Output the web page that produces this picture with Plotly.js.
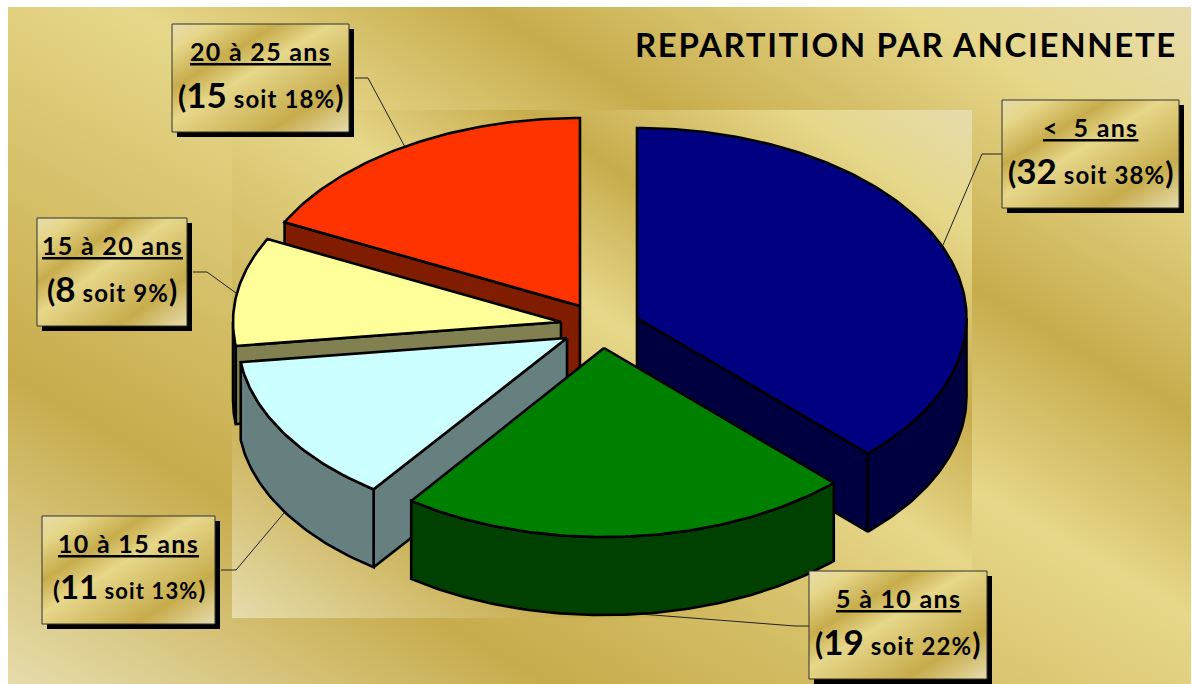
<!DOCTYPE html>
<html>
<head>
<meta charset="utf-8">
<script src="https://cdn.plot.ly/plotly-3.0.1.min.js"></script>
<style>html,body{margin:0;padding:0;background:#fff}#chart{width:1192px;height:684px}</style>
</head>
<body>
<div id="chart"></div>
<script>
// ---- data ----
const categories = ['<  5 ans', '5 à 10 ans', '10 à 15 ans', '15 à 20 ans', '20 à 25 ans'];
const counts = [32, 19, 11, 8, 15];
const percents = [38, 22, 13, 9, 18];
const chartTitle = 'REPARTITION PAR ANCIENNETE';

// ---- styling ----
const topColors = ['#000080', '#008000', '#CCFFFF', '#FFFF99', '#FF3300'];
const sideColors = ['#000040', '#004000', '#668080', '#808050', '#801C00'];
const apexX = [637, 604, 567, 561, 580];
const apexY = [318, 348, 338, 322, 306];
const radiusX = [329.5, 328, 329, 328, 330];
const radiusY = [190, 189, 187, 186, 188];
const depth = 78;
const drawOrder = [4, 3, 0, 2, 1];
const boxLeft = [1002, 809, 42, 37, 172];
const boxRight = [1179, 987, 215, 187, 349];
const boxTop = [100, 571, 516, 218, 24];
const boxHeight = 108;
const restSize = [24, 24, 22, 24, 24];
const parenSize = [30, 30, 25, 30, 30];
const numberSize = [35, 35, 33, 35, 35];
const leaderX = [[1007, 982, 943], [814, 795, 640], [221, 236, 284], [193, 207, 236], [355, 368, 405]];
const leaderY = [[154, 154, 245], [626, 626, 614], [570, 570, 513], [272, 272, 293], [78, 78, 147]];
const goldStops = [[0, '#E6DCAC'], [0.12, '#E6D78A'], [0.30, '#C7AC4C'], [0.45, '#E6D78A'], [0.77, '#C7AC4C'], [1, '#E6DCAC']];
const fontFamily = '"Comic Sans MS", Lato, "Noto Sans", sans-serif';

// flip = false: gradient runs top-right to bottom-left; true: top-left to bottom-right
function goldImage(w, h, flip) {
  const c = document.createElement('canvas');
  c.width = w; c.height = h;
  const g = c.getContext('2d');
  const D = Math.hypot(w, h), k = w * h / D;
  const nx = (flip ? h : -h) / D, ny = w / D;
  const grad = g.createLinearGradient(w / 2 - nx * k, h / 2 - ny * k, w / 2 + nx * k, h / 2 + ny * k);
  goldStops.forEach(s => grad.addColorStop(s[0], s[1]));
  g.fillStyle = grad;
  g.fillRect(0, 0, w, h);
  return c.toDataURL('image/png');
}
function imgRect(x0, y0, x1, y1, layer, flip) {
  return {source: goldImage(x1 - x0, y1 - y0, flip), xref: 'x', yref: 'y', x: x0, y: y0,
    sizex: x1 - x0, sizey: y1 - y0, xanchor: 'left', yanchor: 'top', sizing: 'stretch', layer: layer};
}

// ---- slices, computed from the counts ----
const total = counts.reduce((a, b) => a + b, 0);
const starts = [], ends = [];
counts.reduce((acc, v, i) => { starts[i] = acc; ends[i] = acc + v / total * 2 * Math.PI; return ends[i]; }, 0);

function arc(i, a0, a1, dy) {
  const n = Math.max(2, Math.ceil((a1 - a0) * 60));
  const xs = [], ys = [];
  for (let k = 0; k <= n; k++) {
    const a = a0 + (a1 - a0) * k / n;
    xs.push(apexX[i] + radiusX[i] * Math.sin(a));
    ys.push(apexY[i] - radiusY[i] * Math.cos(a) + dy);
  }
  return [xs, ys];
}
function poly(xs, ys, color, name) {
  return {type: 'scatter', mode: 'lines', x: xs, y: ys, fill: 'toself', fillcolor: color, name: name,
    line: {color: '#000', width: 2.6, shape: 'linear'}, hoverinfo: 'name', showlegend: false};
}
function wall(i, a) {
  const px = apexX[i] + radiusX[i] * Math.sin(a), py = apexY[i] - radiusY[i] * Math.cos(a);
  return poly([apexX[i], px, px, apexX[i], apexX[i]],
              [apexY[i], py, py + depth, apexY[i] + depth, apexY[i]], sideColors[i], categories[i]);
}
const traces = [];
drawOrder.forEach(i => {
  const a0 = starts[i], a1 = ends[i];
  const eps = 1e-6;
  if (Math.sin(a0) < -eps) traces.push(wall(i, a0));
  if (Math.sin(a1) > eps) traces.push(wall(i, a1));
  const lo = Math.max(a0, Math.PI / 2), hi = Math.min(a1, 1.5 * Math.PI);
  if (hi > lo) {
    const t = arc(i, lo, hi, 0), b = arc(i, lo, hi, depth);
    traces.push(poly(t[0].concat(b[0].slice().reverse(), [t[0][0]]),
                     t[1].concat(b[1].slice().reverse(), [t[1][0]]), sideColors[i], categories[i]));
  }
  const t = arc(i, a0, a1, 0);
  traces.push(poly([apexX[i]].concat(t[0], [apexX[i]]), [apexY[i]].concat(t[1], [apexY[i]]), topColors[i], categories[i]));
});

// ---- labels ----
const images = [imgRect(8, 7, 1191, 684, 'below', false), imgRect(232, 110, 972, 618, 'below', false)];
const shapes = [], annotations = [];
categories.forEach((cat, i) => {
  const l = boxLeft[i], r = boxRight[i], t = boxTop[i], b = t + boxHeight;
  shapes.push({type: 'path', layer: 'between', xref: 'x', yref: 'y',
    path: 'M' + leaderX[i].map((x, k) => x + ',' + leaderY[i][k]).join('L'),
    line: {color: '#222', width: 1}});
  shapes.push({type: 'rect', layer: 'between', xref: 'x', yref: 'y', x0: l + 5, y0: t + 5, x1: r + 5, y1: b + 5,
    fillcolor: '#000', line: {width: 0}});
  images.push(imgRect(l, t, r, b, 'above', true));
  shapes.push({type: 'rect', layer: 'above', xref: 'x', yref: 'y', x0: l, y0: t, x1: r, y1: b,
    fillcolor: 'rgba(0,0,0,0)', line: {color: '#333', width: 1}});
  const cx = (l + r) / 2;
  annotations.push({xref: 'x', yref: 'y', x: cx, y: t + 27, showarrow: false, xanchor: 'center', yanchor: 'middle',
    text: '<span style="letter-spacing:1.3px"><u>' + cat.replace('<', '&lt;').replace(/  /g, '\u00A0\u00A0') + '</u></span>',
    font: {family: fontFamily, size: 25, color: '#000', weight: 700}});
  annotations.push({xref: 'x', yref: 'y', x: cx, y: t + 70, showarrow: false, xanchor: 'center', yanchor: 'middle',
    text: '<span style="font-size:' + parenSize[i] + 'px">(</span><span style="font-size:' + numberSize[i] + 'px">' + counts[i] + '</span><span style="letter-spacing:1.1px"> soit ' + percents[i] + '%</span><span style="font-size:' + parenSize[i] + 'px">)</span>',
    font: {family: fontFamily, size: restSize[i], color: '#000', weight: 700}});
});

const layout = {
  width: 1192, height: 684, autosize: false,
  margin: {l: 0, r: 0, t: 0, b: 0},
  paper_bgcolor: '#fff', plot_bgcolor: 'rgba(0,0,0,0)',
  title: {text: '<span style="letter-spacing:1.65px">' + chartTitle + '</span>', xref: 'paper', yref: 'paper', x: 1177 / 1192, xanchor: 'right', y: 1 - 45 / 684, yanchor: 'middle',
    font: {family: fontFamily, size: 33, color: '#000', weight: 700}},
  xaxis: {range: [0, 1192], visible: false, fixedrange: true},
  yaxis: {range: [684, 0], visible: false, fixedrange: true},
  showlegend: false, images: images, shapes: shapes, annotations: annotations
};
Plotly.newPlot('chart', traces, layout, {displayModeBar: false, staticPlot: true});
</script>
</body>
</html>
